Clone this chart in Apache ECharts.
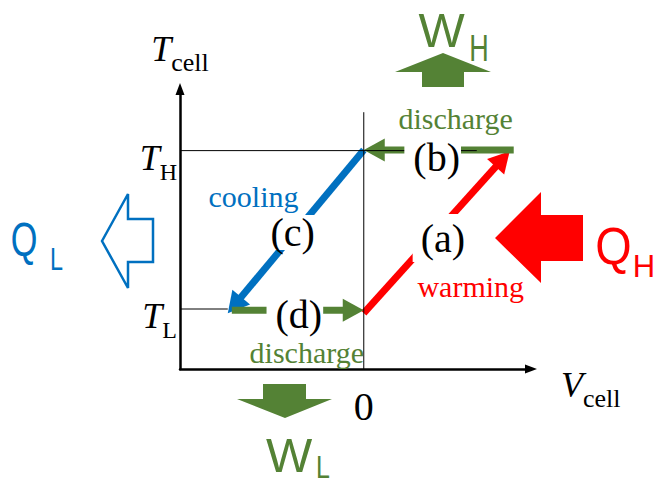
<!DOCTYPE html>
<html><head><meta charset="utf-8">
<script src="https://cdn.jsdelivr.net/npm/echarts@6/dist/echarts.min.js"></script>
<style>html,body{margin:0;padding:0;background:#fff}#c{width:654px;height:483px}</style>
</head><body><div id="c"></div>
<script>
const SERIF = "'Liberation Serif','Times New Roman',serif";
const SANS = "'Liberation Sans',Arial,sans-serif";
const GREEN = '#548235', BLUE = '#0070C0', RED = '#FF0000';

// axis ranges and ticks
const xRange = [-1, 0.91];
const yRange = [0, 4.667];
const T_L = 1.0, T_H = 3.64, V0 = 0;
const yTickValues = [T_L, T_H];
const yTickLabels = [['T', 'L'], ['T', 'H']];
const xTickValues = [V0];
const xTickLabels = ['0'];

// cycle processes (a) warming, (b) discharge, (c) cooling, (d) discharge
const processIds = ['(a)', '(b)', '(c)', '(d)'];
const processStart = [[0, 0.93], [0.816, 3.65], [0, 3.65], [-0.718, 0.98]];
const processEnd = [[0.794, 3.63], [0, 3.65], [-0.74, 0.93], [0, 0.98]];
const processColors = [RED, GREEN, BLUE, GREEN];
const processLabelAt = [[0.414, 2.183], [0.375, 3.533], [-0.381, 2.275], [-0.375, 0.91]];
const processLabelPad = [[14, 2, 2, 8], [0, 1, 0, 9], [3, 2, 0, 0], [0, 1, 0, 9]];

// words
const wordTexts = ['discharge', 'cooling', 'warming', 'discharge'];
const wordColors = [GREEN, BLUE, RED, GREEN];
const wordAt = [[0.50, 4.17], [-0.60, 2.87], [0.582, 1.38], [-0.31, 0.27]];

// guide lines
const guideTH = [[-1, T_H], [0.615, T_H]];
const guideTL = [[-1, T_L], [-0.74, T_L]];
const guideV0 = [[V0, 0], [V0, 4.28]];

const chart = echarts.init(document.getElementById('c'), null, {renderer: 'svg'});

function renderArrow(params, api) {
  const i = params.dataIndex;
  const s = api.coord([api.value(0), api.value(1)]);
  const e = api.coord([api.value(2), api.value(3)]);
  const c = processColors[i];
  const dx = e[0] - s[0], dy = e[1] - s[1], len = Math.hypot(dx, dy);
  const ux = dx / len, uy = dy / len, px = -uy, py = ux;
  const L = 21, W = 11.5;
  const bx = e[0] - ux * L, by = e[1] - uy * L;
  return {type: 'group', children: [
    {type: 'line', shape: {x1: s[0], y1: s[1], x2: bx + ux, y2: by + uy}, style: {stroke: c, lineWidth: 7, lineCap: 'butt'}},
    {type: 'polygon', shape: {points: [[e[0], e[1]], [bx + px * W, by + py * W], [bx - px * W, by - py * W]]}, style: {fill: c}}
  ]};
}

function renderProcessLabel(params, api) {
  const i = params.dataIndex;
  const p = api.coord([api.value(0), api.value(1)]);
  return {type: 'text', x: p[0], y: p[1], z2: 10, style: {
    text: processIds[i], fontSize: 40, fontFamily: SERIF, fill: '#000', lineHeight: 32,
    align: 'center', verticalAlign: 'middle', backgroundColor: '#fff', padding: processLabelPad[i]
  }};
}

function renderWord(params, api) {
  const i = params.dataIndex;
  const p = api.coord([api.value(0), api.value(1)]);
  return {type: 'text', x: p[0], y: p[1], style: {
    text: wordTexts[i], fontSize: 30, fontFamily: SERIF, fill: wordColors[i],
    align: 'center', verticalAlign: 'middle'
  }};
}

const subRich = {
  t: {fontSize: 36, fontStyle: 'italic', fontFamily: SERIF, color: '#000', lineHeight: 36},
  s: {fontSize: 24, fontFamily: SERIF, color: '#000', lineHeight: 6, padding: [28, 0, 0, 0]}
};
const nameRich = {
  t: {fontSize: 36, fontStyle: 'italic', fontFamily: SERIF, color: '#000', lineHeight: 36},
  s: {fontSize: 26, fontFamily: SERIF, color: '#000', lineHeight: 6, padding: [26, 0, 0, 0]}
};

function guideSeries(data) {
  return {type: 'line', data: data, showSymbol: false, symbol: 'none', z: 5, silent: true,
    lineStyle: {color: '#000', width: 1}};
}

const option = {
  animation: false,
  backgroundColor: '#fff',
  grid: {left: 180, top: 89, width: 351, height: 280, outerBoundsMode: 'none', containLabel: false},
  xAxis: {
    type: 'value', min: xRange[0], max: xRange[1],
    name: '{t|V}{s|cell}', nameLocation: 'end', nameGap: 30,
    nameTextStyle: {rich: nameRich, padding: [32, 0, 0, 0]},
    axisLine: {show: true, onZero: false, symbol: ['none', 'triangle'], symbolSize: [9, 12],
      lineStyle: {color: '#000', width: 2.5}},
    axisTick: {show: false}, splitLine: {show: false},
    axisLabel: {customValues: xTickValues, formatter: v => xTickLabels[xTickValues.indexOf(v)] ?? '0',
      fontSize: 40, fontFamily: SERIF, color: '#000', margin: 17}
  },
  yAxis: {
    type: 'value', min: yRange[0], max: yRange[1],
    name: '{t|T}{s|cell}', nameLocation: 'end', nameGap: 22,
    nameTextStyle: {rich: nameRich},
    axisLine: {show: true, onZero: false, symbol: ['none', 'triangle'], symbolSize: [9, 12],
      lineStyle: {color: '#000', width: 2.5}},
    axisTick: {show: false}, splitLine: {show: false},
    axisLabel: {customValues: yTickValues, margin: 3, padding: [14, 0, 0, 0], rich: subRich,
      formatter: v => {
        let k = 0, best = Infinity;
        yTickValues.forEach((t, j) => { if (Math.abs(t - v) < best) { best = Math.abs(t - v); k = j; } });
        return '{t|' + yTickLabels[k][0] + '}{s|' + yTickLabels[k][1] + '}';
      }}
  },
  series: [
    {type: 'custom', name: 'processes', coordinateSystem: 'cartesian2d', clip: false, z: 3, silent: true,
      data: processStart.map((p, i) => [p[0], p[1], processEnd[i][0], processEnd[i][1]]),
      encode: {x: [0, 2], y: [1, 3]}, renderItem: renderArrow},
    guideSeries(guideTH), guideSeries(guideTL), guideSeries(guideV0),
    {type: 'custom', name: 'processLabels', coordinateSystem: 'cartesian2d', clip: false, z: 8, silent: true,
      data: processLabelAt, encode: {x: 0, y: 1}, renderItem: renderProcessLabel},
    {type: 'custom', name: 'words', coordinateSystem: 'cartesian2d', clip: false, z: 9, silent: true,
      data: wordAt, encode: {x: 0, y: 1}, renderItem: renderWord}
  ],
  graphic: [
    // W_H: work out, up arrow
    {type: 'polygon', shape: {points: [[443, 53], [491, 72], [464, 72], [464, 87], [422, 87], [422, 72], [395, 72]]}, style: {fill: GREEN}},
    {type: 'text', x: 441.5, y: 29.5, style: {text: 'W', fontSize: 49, fontFamily: SANS, fill: GREEN, align: 'center', verticalAlign: 'middle'}},
    {type: 'text', x: 479, y: 48.5, scaleX: 0.75, style: {text: 'H', fontSize: 36, fontFamily: SANS, fill: GREEN, align: 'center', verticalAlign: 'middle'}},
    // W_L: down arrow
    {type: 'polygon', shape: {points: [[263, 384], [306, 384], [306, 399], [332, 399], [285, 418], [237, 399], [263, 399]]}, style: {fill: GREEN}},
    {type: 'text', x: 289, y: 454.5, style: {text: 'W', fontSize: 49, fontFamily: SANS, fill: GREEN, align: 'center', verticalAlign: 'middle'}},
    {type: 'text', x: 323, y: 466.5, scaleX: 0.78, style: {text: 'L', fontSize: 32, fontFamily: SANS, fill: GREEN, align: 'center', verticalAlign: 'middle'}},
    // Q_L: outlined left arrow
    {type: 'polygon', shape: {points: [[102, 241], [128, 194], [128, 219], [153, 219], [153, 262], [128, 262], [128, 288]]},
      style: {fill: '#fff', stroke: BLUE, lineWidth: 2.5, lineJoin: 'miter'}},
    {type: 'text', x: 24, y: 239.5, scaleX: 0.7, style: {text: 'Q', fontSize: 49, fontFamily: SANS, fill: BLUE, align: 'center', verticalAlign: 'middle'}},
    {type: 'text', x: 56.5, y: 259.5, scaleX: 0.73, style: {text: 'L', fontSize: 32, fontFamily: SANS, fill: BLUE, align: 'center', verticalAlign: 'middle'}},
    // Q_H: filled left arrow
    {type: 'polygon', shape: {points: [[495, 238], [541, 192], [541, 215], [583, 215], [583, 261], [541, 261], [541, 283]]}, style: {fill: RED}},
    {type: 'text', x: 613.5, y: 246, scaleX: 0.9, style: {text: 'Q', fontSize: 52, fontFamily: SANS, fill: RED, align: 'center', verticalAlign: 'middle'}},
    {type: 'text', x: 644, y: 266, style: {text: 'H', fontSize: 31, fontFamily: SANS, fill: RED, align: 'center', verticalAlign: 'middle'}}
  ]
};
chart.setOption(option);
</script>
</body></html>
